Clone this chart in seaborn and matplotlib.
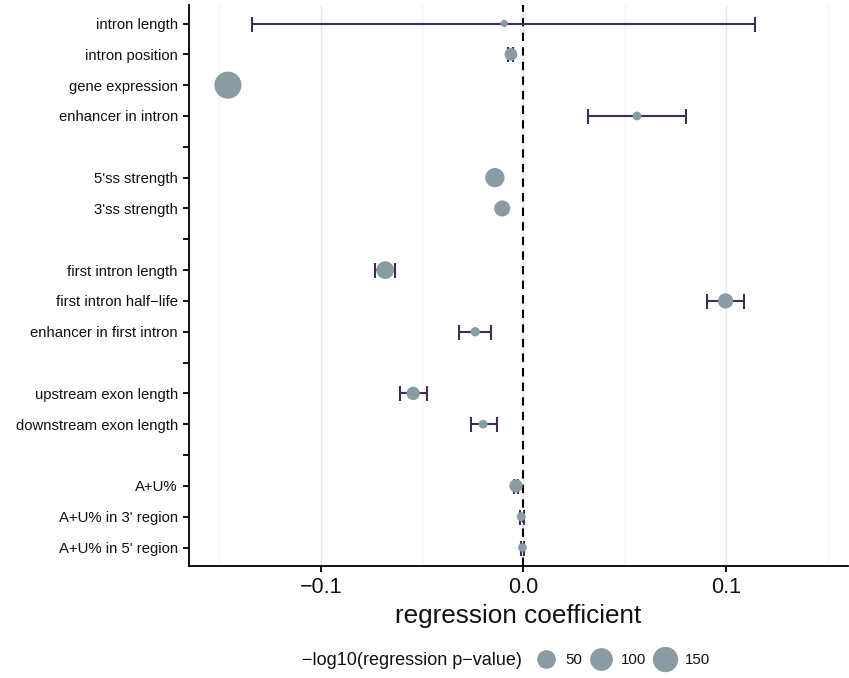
#!/usr/bin/env python3
# regression coefficients per intron feature, dot size = -log10(p)

import numpy as np
import pandas as pd
import matplotlib
matplotlib.use("Agg")
import matplotlib.pyplot as plt
from matplotlib.colors import PowerNorm
from matplotlib.lines import Line2D
import seaborn as sns

# ---------------- data ----------------
features = ["intron length", "intron position", "gene expression", "enhancer in intron",
            "5'ss strength", "3'ss strength",
            "first intron length", "first intron half\u2212life", "enhancer in first intron",
            "upstream exon length", "downstream exon length",
            "A+U%", "A+U% in 3' region", "A+U% in 5' region"]
groups = ["intron", "intron", "intron", "intron",
          "splice site", "splice site",
          "first intron", "first intron", "first intron",
          "exon", "exon",
          "composition", "composition", "composition"]
coef = [-0.0095, -0.0062, -0.1458, 0.0560,
        -0.0141, -0.0105,
        -0.0682, 0.0997, -0.0238,
        -0.0544, -0.0199,
        -0.0037, -0.0011, -0.0005]
ci_low = [-0.1338, -0.0075, -0.1470, 0.0319,
          -0.0150, -0.0112,
          -0.0731, 0.0905, -0.0317,
          -0.0608, -0.0258,
          -0.0046, -0.0016, -0.0011]
ci_high = [0.1142, -0.0052, -0.1446, 0.0802,
           -0.0132, -0.0098,
           -0.0633, 0.1088, -0.0159,
           -0.0475, -0.0130,
           -0.0028, 0.0005, 0.0002]
neg_log10_p = [9, 17, 195, 10,
               56, 31,
               42, 27, 10.6,
               19, 10,
               19, 10.3, 10]
legend_levels = [50, 100, 150]

POINT_COL = "#8a9ba3"
BAR_COL = "#3d2e52"
TEXT_COL = "#111111"

# ---------------- plot ----------------
sns.set_style("white")
plt.rcParams["font.family"] = ["Liberation Sans", "DejaVu Sans"]

df = pd.DataFrame({"feature": features, "group": groups, "coef": coef,
                   "lo": ci_low, "hi": ci_high, "p": neg_log10_p})
# leave one empty row between feature groups
df["pos"] = np.arange(len(df)) + pd.factorize(df["group"])[0]
n_rows = int(df["pos"].max()) + 1

size_norm = PowerNorm(gamma=0.5, vmin=8, vmax=200)
size_range = (0, 386)

fig = plt.figure(figsize=(8.49, 6.78), dpi=100)
ax = fig.add_axes([0.2226, 0.1652, 0.776, 0.8274])

ax.axvline(0, color="black", ls=(0, (4, 3)), lw=1.5, zorder=1.5)
ax.errorbar(df["coef"], df["pos"], xerr=[df["coef"] - df["lo"], df["hi"] - df["coef"]],
            fmt="none", ecolor=BAR_COL, elinewidth=1.5, capsize=5.4, capthick=1.5, zorder=2)
sns.scatterplot(data=df, x="coef", y="pos", size="p", sizes=size_range, size_norm=size_norm,
                color=POINT_COL, edgecolor="none", linewidth=0, alpha=1,
                legend=False, ax=ax, zorder=3)

# axes, grid
ax.set_xlim(-0.165, 0.160)
ax.set_ylim(n_rows - 1 + 0.6, -0.6)
ax.set_xticks([-0.1, 0.0, 0.1])
ax.set_xticklabels(["\u22120.1", "0.0", "0.1"])
ax.set_xticks([-0.15, -0.05, 0.05, 0.15], minor=True)
ax.grid(axis="x", which="major", color="#e6e6e6", lw=1.0)
ax.grid(axis="x", which="minor", color="#f4f4f4", lw=0.9)
ax.grid(axis="y", visible=False)
ax.set_axisbelow(True)

ylabels = [""] * n_rows
for _, r in df.iterrows():
    ylabels[int(r["pos"])] = r["feature"]
ax.set_yticks(range(n_rows))
ax.set_yticklabels(ylabels, fontsize=10.7)

ax.tick_params(axis="both", which="major", length=4, width=1.3, color="black",
               labelcolor=TEXT_COL, left=True, bottom=True, direction="out")
ax.tick_params(axis="y", pad=4)
ax.tick_params(axis="x", labelsize=15.5, pad=4)
ax.tick_params(axis="both", which="minor", length=0)

for side in ["top", "right"]:
    ax.spines[side].set_visible(False)
for side in ["left", "bottom"]:
    ax.spines[side].set_color("black")
    ax.spines[side].set_linewidth(1.3)

ax.set_xlabel("regression coefficient", fontsize=18.8, labelpad=4, color=TEXT_COL)
ax.set_ylabel("")

# size legend along the bottom
handles = [Line2D([], [], ls="", marker="o", color=POINT_COL, markeredgewidth=0,
                  markersize=np.sqrt(size_range[0] + size_norm(v) * (size_range[1] - size_range[0])))
           for v in legend_levels]
fig.text(302 / 849, 0.0265, "\u2212log10(regression p\u2212value)", ha="left", va="center",
         fontsize=13, color=TEXT_COL)
leg = fig.legend(handles, [str(v) for v in legend_levels], loc="center left",
                 bbox_to_anchor=(537 / 849, 0.0265), ncol=3, frameon=False,
                 handlelength=1.2, handletextpad=0.67, columnspacing=0.7,
                 borderpad=0, borderaxespad=0, fontsize=10.8)
for t in leg.get_texts():
    t.set_color(TEXT_COL)

fig.savefig("out.png", dpi=100)
